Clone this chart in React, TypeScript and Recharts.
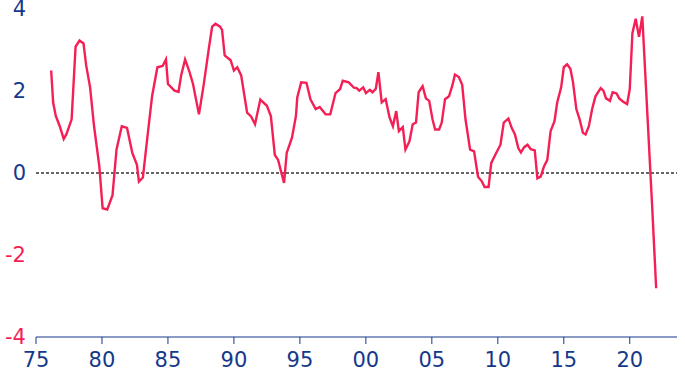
import { LineChart, Line, XAxis, YAxis, ReferenceLine } from "recharts"

const BLUE = "#15398a"
const PINK = "#f41f55"
const FONT = "'DejaVu Sans', Verdana, sans-serif"

// positions along the x axis (fractional years)
const years = [
  1976.15, 1976.3, 1976.5, 1976.8, 1977.1, 1977.3, 1977.7, 1978.0, 1978.3, 1978.6,
  1978.8, 1979.1, 1979.4, 1979.8, 1980.05, 1980.4, 1980.8, 1981.1, 1981.5, 1981.9,
  1982.3, 1982.65, 1982.8, 1983.1, 1983.45, 1983.8, 1984.2, 1984.6, 1984.85, 1985.0,
  1985.5, 1985.8, 1986.0, 1986.3, 1986.6, 1986.9, 1987.35, 1987.7, 1988.1, 1988.35,
  1988.6, 1988.95, 1989.1, 1989.3, 1989.75, 1990.0, 1990.25, 1990.55, 1991.0, 1991.3,
  1991.6, 1992.0, 1992.5, 1992.8, 1993.1, 1993.35, 1993.6, 1993.8, 1994.0, 1994.4,
  1994.7, 1994.8, 1995.1, 1995.5, 1995.8, 1996.2, 1996.5, 1996.95, 1997.3, 1997.7,
  1998.05, 1998.25, 1998.7, 1999.1, 1999.3, 1999.5, 1999.8, 2000.0, 2000.3, 2000.5,
  2000.75, 2000.95, 2001.2, 2001.5, 2001.8, 2002.05, 2002.3, 2002.5, 2002.8, 2003.0,
  2003.3, 2003.55, 2003.8, 2004.0, 2004.3, 2004.55, 2004.8, 2005.05, 2005.25, 2005.55,
  2005.75, 2006.0, 2006.3, 2006.55, 2006.75, 2007.05, 2007.3, 2007.55, 2007.9, 2008.2,
  2008.5, 2008.8, 2009.0, 2009.3, 2009.5, 2009.8, 2010.2, 2010.45, 2010.8, 2011.05,
  2011.3, 2011.55, 2011.75, 2012.0, 2012.25, 2012.5, 2012.8, 2013.0, 2013.25, 2013.5,
  2013.75, 2014.0, 2014.3, 2014.5, 2014.8, 2015.0, 2015.25, 2015.5, 2015.7, 2015.95,
  2016.2, 2016.45, 2016.65, 2016.9, 2017.15, 2017.4, 2017.8, 2018.0, 2018.2, 2018.5,
  2018.7, 2019.0, 2019.2, 2019.5, 2019.8, 2020.0, 2020.2, 2020.45, 2020.7, 2020.95,
  2021.7, 2022.0,
]

const values = [
  2.5, 1.72, 1.39, 1.14, 0.83, 0.94, 1.31, 3.08, 3.23, 3.16,
  2.63, 2.09, 1.14, 0.16, -0.86, -0.89, -0.54, 0.57, 1.14, 1.1,
  0.49, 0.2, -0.21, -0.11, 0.9, 1.88, 2.58, 2.61, 2.77, 2.17,
  2.01, 1.98, 2.38, 2.77, 2.5, 2.17, 1.43, 2.13, 3.04, 3.57,
  3.64, 3.57, 3.49, 2.87, 2.75, 2.5, 2.58, 2.38, 1.47, 1.38,
  1.19, 1.79, 1.64, 1.39, 0.44, 0.32, 0.0, -0.24, 0.49, 0.86,
  1.39, 1.84, 2.21, 2.2, 1.8, 1.56, 1.61, 1.43, 1.43, 1.95,
  2.05, 2.25, 2.21, 2.08, 2.07, 2.01, 2.09, 1.95, 2.03, 1.97,
  2.05, 2.46, 1.72, 1.8, 1.35, 1.14, 1.51, 1.02, 1.12, 0.57,
  0.77, 1.19, 1.23, 1.97, 2.12, 1.82, 1.76, 1.31, 1.06, 1.06,
  1.23, 1.8, 1.87, 2.13, 2.4, 2.34, 2.15, 1.31, 0.57, 0.53,
  -0.09, -0.21, -0.34, -0.34, 0.24, 0.44, 0.69, 1.23, 1.33, 1.1,
  0.94, 0.61, 0.5, 0.63, 0.69, 0.58, 0.55, -0.13, -0.09, 0.16,
  0.32, 1.02, 1.27, 1.72, 2.09, 2.58, 2.65, 2.54, 2.21, 1.56,
  1.31, 0.98, 0.94, 1.14, 1.56, 1.87, 2.07, 2.01, 1.82, 1.76,
  1.97, 1.94, 1.82, 1.74, 1.68, 2.05, 3.41, 3.76, 3.32, 3.82,
  -0.83, -2.81,
]

const xTicks = [1975, 1980, 1985, 1990, 1995, 2000, 2005, 2010, 2015, 2020]
const yTicks = [-4, -2, 0, 2, 4]

const data = years.map((year, i) => ({ year, value: values[i] }))

function YTick({ x, y, payload }: { x?: number; y?: number; payload?: { value: number } }) {
  if (!payload) return null
  return (
    <text
      x={x}
      y={y}
      dy="0.355em"
      textAnchor="end"
      fill={payload.value < 0 ? PINK : BLUE}
      fontSize={21}
      fontFamily={FONT}
    >
      {payload.value}
    </text>
  )
}

function XTick({ x, y, payload }: { x?: number; y?: number; payload?: { value: number } }) {
  if (!payload) return null
  return (
    <text x={x} y={y} dy="0.71em" textAnchor="middle" fill={BLUE} fontSize={21} fontFamily={FONT}>
      {String(payload.value % 100).padStart(2, "0")}
    </text>
  )
}

export default function App() {
  return (
    <div style={{ position: "fixed", left: 0, top: 0, width: 685, height: 379, background: "#fff" }}>
      <LineChart width={685} height={379} data={data} margin={{ top: 9, right: 8, bottom: 0, left: 0 }}>
        <XAxis
          dataKey="year"
          type="number"
          domain={[1975, 2023.58]}
          ticks={xTicks}
          interval={0}
          stroke={BLUE}
          tickSize={7}
          tickMargin={8}
          height={42}
          tick={<XTick />}
        />
        <YAxis
          type="number"
          domain={[-4, 4]}
          ticks={yTicks}
          interval={0}
          axisLine={false}
          tickLine={false}
          tickSize={0}
          tickMargin={10}
          width={36}
          tick={<YTick />}
        />
        <ReferenceLine y={0} stroke="#333" strokeWidth={1.3} strokeDasharray="3 2" />
        <Line
          type="linear"
          dataKey="value"
          stroke={PINK}
          strokeWidth={2.4}
          dot={false}
          isAnimationActive={false}
        />
      </LineChart>
    </div>
  )
}
